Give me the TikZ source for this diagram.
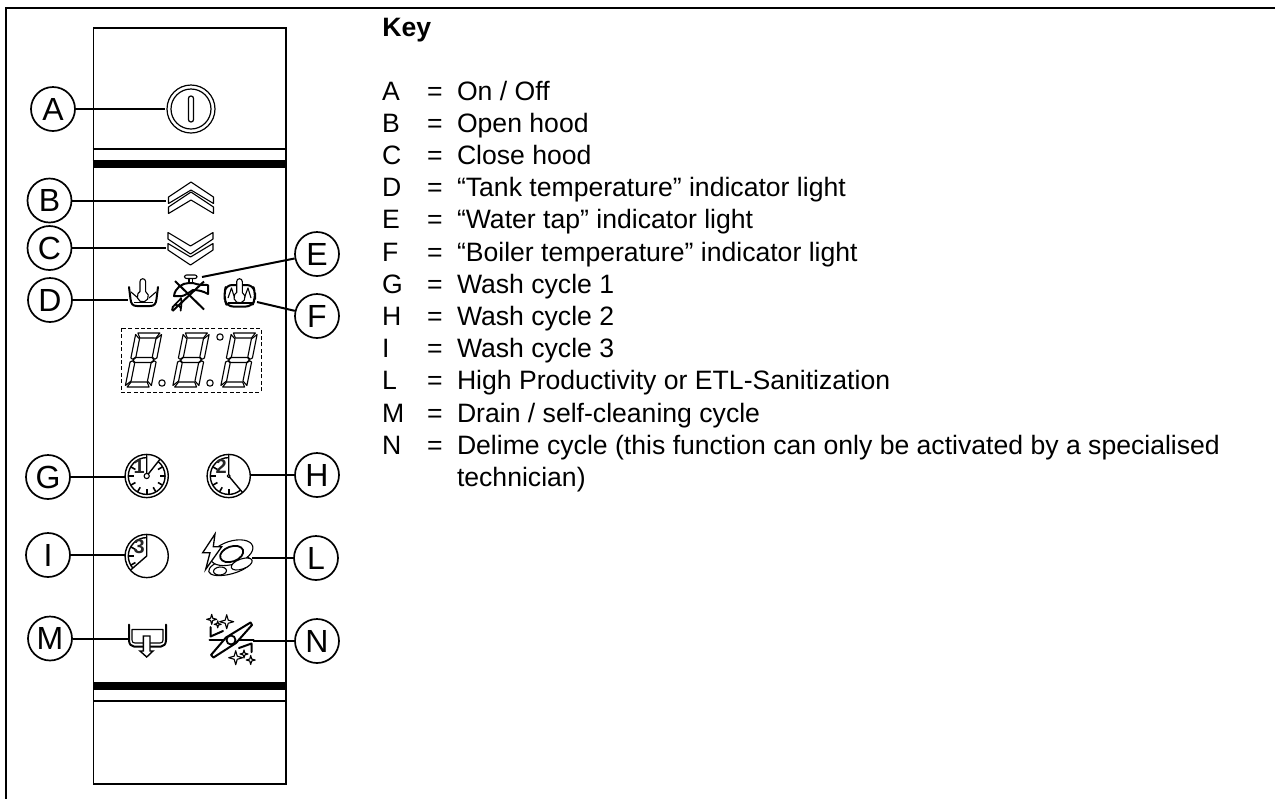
\documentclass[tikz,border=0pt]{standalone}
\usepackage{fontspec}
\setmainfont{Liberation Sans}
\usetikzlibrary{matrix}
\tikzset{
  thinline/.style={line width=.55pt, line join=round},
  frameline/.style={line width=.7pt},
  panelline/.style={line width=.55pt},
  band/.style={line width=4pt},
  iconbold/.style={line width=1pt, line join=round, line cap=round},
  leader/.style={line width=1pt},
  callout/.style={circle, draw, line width=.85pt, minimum size=22pt, inner sep=0pt, font=\fontsize{16}{16}\selectfont},
  pics/chevron/.style={code={
    \draw[thinline, fill=white] (0,0) -- (22.5,-15) -- (22.5,-21.5) -- (0,-8) -- (-22.5,-21.5) -- (-22.5,-15) -- cycle;
  }},
  pics/segdigit/.style={code={
    \begin{scope}[xslant=.2, thinline]
      \draw (-11,27) -- (11,27) -- (8,22) -- (-8,22) -- cycle;
      \draw (-11,-27) -- (11,-27) -- (8,-22) -- (-8,-22) -- cycle;
      \draw (-8,2.5) -- (8,2.5) -- (10.5,0) -- (8,-2.5) -- (-8,-2.5) -- (-10.5,0) -- cycle;
      \foreach \sx/\sy in {1/1,1/-1,-1/1,-1/-1}
        \draw[xscale=\sx, yscale=\sy] (13,25.5) -- (13,2) -- (11,.8) -- (8.2,3) -- (8.2,21) -- cycle;
    \end{scope}
  }},
  pics/clockface/.style n args={3}{code={
    \draw[line width=.7pt] (0,0) circle (21.6);
    \draw[line width=.7pt] (90:18.4) arc (90:#1:18.4);
    \draw[line width=.7pt] (90:21.6) -- (0,0) -- (#1:21.6);
    \foreach \ang in {#3} \draw[line width=.8pt] (\ang:18.4) -- (\ang:13);
    \node[inner sep=0pt, font=\fontsize{10}{10}\bfseries\selectfont, text=black!85] (digit#2) at (-7.5,9) {#2};
  }},
  pics/sparkle/.style={code={
    \draw[thinline, fill=white] (0,#1) -- (.22*#1,.22*#1) -- (#1,0) -- (.22*#1,-.22*#1) -- (0,-#1) -- (-.22*#1,-.22*#1) -- (-#1,0) -- (-.22*#1,.22*#1) -- cycle;
  }}
}
\begin{document}
\begin{tikzpicture}[x=.5pt, y=.5pt]
\useasboundingbox (0,0) rectangle (1275,-799);
\draw[frameline] (1275,-8) -- (6,-8) -- (6,-799);

\draw[panelline] (93.5,-28) rectangle (286,-784);
\draw[panelline] (92.5,-149) -- (286,-149);
\draw[band] (92.5,-164) -- (286,-164);
\draw[band] (93.5,-686) -- (286,-686);
\draw[panelline] (93.5,-701) -- (286,-701);

\draw[line width=.6pt] (191,-109) circle (24);
\draw[line width=.6pt] (191,-109) circle (20);
\draw[line width=.6pt, rounded corners=1.2pt] (188.5,-96) rectangle (193.5,-122);

\pic at (191,-182) {chevron};
\pic at (191,-192) {chevron};
\pic[yscale=-1] at (190.5,-254) {chevron};
\pic[yscale=-1] at (190.5,-265) {chevron};

\draw[iconbold] (129,-287) -- (130.5,-299) .. controls (131,-304) and (133,-306) .. (137,-306) -- (150,-306) .. controls (154,-306) and (156,-304) .. (156.5,-299) -- (158,-287);
\draw[thinline] (131,-292) -- (138,-298);
\draw[thinline] (156,-292) -- (149,-298);
\draw[thinline] (134,-302.5) -- (153,-302.5);
\draw[thinline, fill=white] (140,-291.5) -- (140,-281.5) arc (180:0:2.8) -- (145.6,-291.5) arc (60:-240:5.6) -- cycle;

\draw[thinline, rounded corners=1pt] (184.5,-275) rectangle (197,-278.5);
\draw[thinline] (189,-278.5) -- (189,-283) (192.5,-278.5) -- (192.5,-283);
\draw[iconbold, fill=white] (174,-296) .. controls (175,-288) and (182,-283) .. (189,-283) -- (193,-283) .. controls (198,-285) and (203,-285) .. (208,-285) -- (208,-294) .. controls (203,-291) and (198,-290) .. (193,-290) .. controls (190,-292) and (184,-296) .. (182,-296) -- cycle;
\draw[thinline, line width=.8pt, fill=white] (181,-298) .. controls (180,-301) and (172,-305) .. (172,-310) arc (190:-20:4.5) .. controls (181.5,-305) and (182,-301) .. (181,-298) -- cycle;
\draw[leader] (175,-281) -- (204,-309.5);
\draw[leader] (204,-281.5) -- (172.5,-311);

\draw[iconbold, rounded corners=3pt] (236,-285) -- (226,-285) -- (224.5,-293) -- (224.5,-299) -- (227,-306.5) -- (252,-306.5) -- (255,-299) -- (255,-293) -- (253,-285) -- (243,-285);
\draw[thinline] (228,-298) -- (231.5,-288) -- (234,-296) -- (235,-299);
\draw[thinline] (251,-298) -- (248,-288) -- (245,-296) -- (244,-299);
\draw[thinline] (227.5,-303) -- (252,-303);
\draw[thinline, fill=white] (236.7,-292.5) -- (236.7,-281.5) arc (180:0:2.8) -- (242.3,-292.5) arc (60:-240:5.6) -- cycle;

\draw[line width=.5pt, dash pattern=on 2pt off 1.2pt] (121,-328) rectangle (261,-392);
\pic at (143.5,-360) {segdigit};
\pic at (191,-360) {segdigit};
\pic at (239,-360) {segdigit};
\draw[thinline] (162,-383) circle (3.2);
\draw[thinline] (210,-383) circle (3.2);
\draw[thinline] (220,-337) circle (3.2);

\pic at (146.7,-476) {clockface={411.6}{1}{30,0,-30,-60,-90,-120,-150,180,150}};
\draw[thinline, fill=white] (146.7,-476) circle (2.6);
\pic at (228.7,-476) {clockface={310}{2}{-90,-120,-150,180,150}};
\draw[thinline, fill=white] (228.7,-476) circle (1.5);
\pic at (146.7,-556) {clockface={221}{3}{210,180,150}};

\draw[thinline, fill=white] (230,-566) ellipse [x radius=22, y radius=8, rotate=15];
\draw[thinline, fill=white] (231.7,-552.7) ellipse [x radius=22, y radius=11.5, rotate=18];
\draw[thinline, fill=white] (220,-571) ellipse [x radius=6.5, y radius=4, rotate=5];
\draw[thinline, fill=white] (241.7,-564) ellipse [x radius=11, y radius=5, rotate=20];
\draw[line width=.9pt, fill=white] (231.7,-554) ellipse [x radius=12, y radius=7.5, rotate=20];
\draw[line width=.65pt, fill=white] (215,-534) -- (202.7,-552.7) -- (210,-552.7) -- (205.7,-569.3) -- (221.7,-546.7) -- (213.3,-546.7) -- cycle;

\draw[iconbold] (129,-624.5) -- (129,-640) .. controls (129,-644) and (131,-646.5) .. (134,-646.5) -- (161,-646.5) .. controls (164,-646.5) and (166,-644) .. (166,-640) -- (166,-624.5);
\draw[thinline] (132,-629.5) -- (132,-640) .. controls (132,-642) and (133,-643) .. (135,-643) -- (160,-643) .. controls (162,-643) and (163,-642) .. (163,-640) -- (163,-629.5) -- cycle;
\draw[line width=.7pt, fill=white] (143.3,-636) -- (150,-636) -- (150,-651) -- (153,-651) -- (146.7,-657) -- (140,-651) -- (143.3,-651) -- cycle;

\draw[iconbold] (209.5,-640) -- (253.5,-640);
\draw[iconbold, fill=white] (250.5,-622.5) -- (252,-625) -- (236,-643) -- (213.5,-657.5) -- (211,-655) -- (226,-637.5) -- cycle;
\draw[line width=.9pt, fill=white] (231,-640) circle (4.5);
\pic at (211.7,-619.3) {sparkle={5}};
\pic at (217.7,-624.3) {sparkle={3.5}};
\pic at (226.7,-621.7) {sparkle={7}};
\pic at (235.7,-657.7) {sparkle={7}};
\pic at (244,-654) {sparkle={4}};
\pic at (250.7,-660) {sparkle={4.5}};
\draw[iconbold] (223,-631) -- (210.5,-636.5) -- (210.5,-627);
\draw[iconbold] (239,-648) -- (251.5,-643.5) -- (251.5,-652);

\node[callout] (A) at (53,-109) {A};
\node[callout] (B) at (49.5,-200.5) {B};
\node[callout] (C) at (49.5,-248) {C};
\node[callout] (D) at (50,-300) {D};
\node[callout] (E) at (317,-254) {E};
\node[callout] (F) at (317,-316) {F};
\node[callout] (G) at (48,-477) {G};
\node[callout] (H) at (317,-475) {H};
\node[callout] (I) at (48,-555) {I};
\node[callout] (L) at (316,-558) {L};
\node[callout] (M) at (50,-638.5) {M};
\node[callout] (N) at (317,-641) {N};

\coordinate (symA) at (165,-109);
\coordinate (symB) at (166,-200.5);
\coordinate (symC) at (166,-248);
\coordinate (symD) at (128,-300);
\coordinate (symE) at (202,-277);
\coordinate (symF) at (257,-302);
\coordinate (symG) at (125,-477);
\coordinate (symH) at (251,-475);
\coordinate (symI) at (125,-555);
\coordinate (symL) at (252,-558);
\coordinate (symM) at (128,-638.5);
\coordinate (symN) at (253,-641);

\draw[leader] (A) -- (symA);
\draw[leader] (B) -- (symB);
\draw[leader] (C) -- (symC);
\draw[leader] (D) -- (symD);
\draw[leader] (E) -- (symE);
\draw[leader] (F) -- (symF);
\draw[leader] (G) -- (symG);
\draw[leader] (H) -- (symH);
\draw[leader] (I) -- (symI);
\draw[leader] (L) -- (symL);
\draw[leader] (M) -- (symM);
\draw[leader] (N) -- (symN);

\node[anchor=base west, inner sep=0pt, font=\fontsize{13.3}{16}\bfseries\selectfont] (keytitle) at (382,-36.5) {Key};
\matrix (keylist) [matrix of nodes, anchor=north west, inner sep=0pt, outer sep=0pt,
    nodes={anchor=base west, inner sep=0pt, text height=11.5pt, text depth=4.6pt, font=\fontsize{13.3}{16}\selectfont},
    column 1/.style={nodes={text width=22.5pt}},
    column 2/.style={nodes={text width=15pt}},
    row sep=0pt, column sep=0pt] at (382,-77) {
    A & = & On / Off \\
    B & = & Open hood \\
    C & = & Close hood \\
    D & = & “Tank temperature” indicator light \\
    E & = & “Water tap” indicator light \\
    F & = & “Boiler temperature” indicator light \\
    G & = & Wash cycle 1 \\
    H & = & Wash cycle 2 \\
    I & = & Wash cycle 3 \\
    L & = & High Productivity or ETL-Sanitization \\
    M & = & Drain / self-cleaning cycle \\
    N & = & Delime cycle (this function can only be activated by a specialised \\
      &   & technician) \\
};
\end{tikzpicture}
\end{document}
